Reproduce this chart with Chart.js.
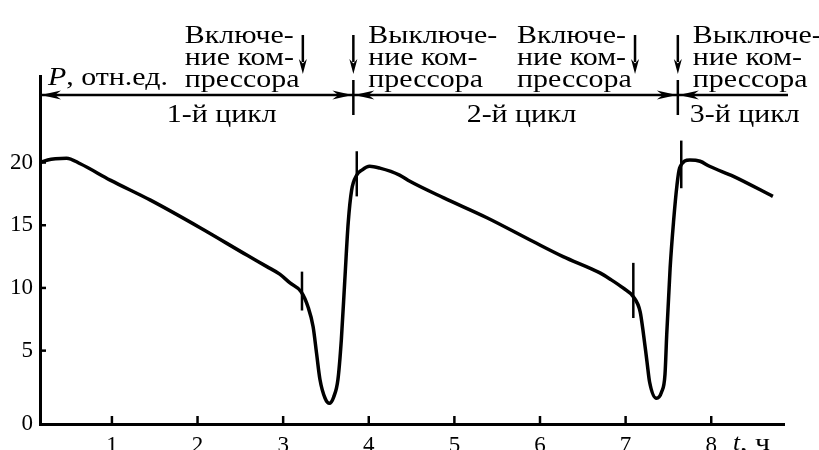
<!DOCTYPE html>
<html><head><meta charset="utf-8">
<script src="https://cdn.jsdelivr.net/npm/chart.js@4/dist/chart.umd.min.js"></script>
<style>html,body{margin:0;padding:0;background:#fff}</style>
</head><body>
<canvas id="c" width="819" height="450"></canvas>
<script>
// ---- data ----
const timeH = [0.16,0.25,0.34,0.47,0.63,0.98,1.45,2.03,2.58,2.81,2.96,3.08,3.21,3.29,3.35,3.39,3.43,3.49,3.54,3.59,3.64,3.68,3.72,3.76,3.80,3.86,3.92,4.01,4.13,4.36,4.48,4.87,5.38,5.92,6.27,6.70,6.82,6.97,7.09,7.17,7.21,7.25,7.28,7.36,7.42,7.46,7.48,7.52,7.56,7.60,7.63,7.75,7.87,7.98,8.26,8.72];
const powerRel = [20.0,20.2,20.3,20.35,19.9,18.6,17.0,14.8,12.6,11.7,11.1,10.4,9.7,8.5,6.9,4.8,2.7,1.2,0.8,1.3,2.7,5.9,10.6,15.2,17.8,19.0,19.4,19.7,19.55,19.0,18.5,17.2,15.6,13.7,12.5,11.2,10.7,10.0,9.3,8.1,6.25,4.1,2.5,1.2,1.7,3.1,6.25,11.6,15.3,18.2,19.55,20.2,20.1,19.7,18.9,17.3];
const xTickValues = [1,2,3,4,5,6,7,8];
const yTickValues = [5,10,15,20];
const yZeroLabel = '0';
const markerTimes = [3.22,3.86,7.09,7.65];
const markerLow = [8.2,17.3,7.6,17.95];
const markerHigh = [11.3,20.9,12.0,21.75];
const eventTimes = [3.23,3.82,7.11,7.61];
const eventKinds = ['on','off','on','off'];
const eventTextOn = ['Включе-','ние ком-','прессора'];
const eventTextOff = ['Выключе-','ние ком-','прессора'];
const cycleBounds = [3.82,7.61];
const cycleLabels = ['1-й цикл','2-й цикл','3-й цикл'];
const yAxisTitleItalic = 'P';
const yAxisTitleRest = ', отн.ед.';
const xAxisTitleItalic = 't';
const xAxisTitleRest = ', ч';

const SERIF = '"Liberation Serif","Times New Roman",serif';
const SX = 1.15; // horizontal stretch of annotation lettering

const datasets = [{
  data: timeH.map((t,i)=>({x:t,y:powerRel[i]})),
  borderColor:'#000', borderWidth:3.5, pointRadius:0, cubicInterpolationMode:'monotone', fill:false
}];
markerTimes.forEach((t,i)=>{
  datasets.push({data:[{x:t,y:markerLow[i]},{x:t,y:markerHigh[i]}], borderColor:'#000', borderWidth:2.5, pointRadius:0, fill:false});
});

function arrowHead(ctx, tipX, tipY, dir, len, half){
  ctx.beginPath();
  if(dir==='right'){ctx.moveTo(tipX,tipY);ctx.lineTo(tipX-len,tipY-half);ctx.lineTo(tipX-len*0.7,tipY);ctx.lineTo(tipX-len,tipY+half);}
  else if(dir==='left'){ctx.moveTo(tipX,tipY);ctx.lineTo(tipX+len,tipY-half);ctx.lineTo(tipX+len*0.7,tipY);ctx.lineTo(tipX+len,tipY+half);}
  else {ctx.moveTo(tipX,tipY);ctx.lineTo(tipX-half,tipY-len);ctx.lineTo(tipX,tipY-len*0.7);ctx.lineTo(tipX+half,tipY-len);}
  ctx.closePath(); ctx.fill();
}
function txt(ctx, s, x, y, font, align, sx){
  ctx.save();
  ctx.font = font; ctx.textAlign = align||'left'; ctx.textBaseline='alphabetic';
  ctx.translate(x,y); ctx.scale(sx||1,1);
  ctx.fillText(s,0,0);
  const w = ctx.measureText(s).width*(sx||1);
  ctx.restore();
  return w;
}

const decor = {
  id:'decor',
  afterDraw(chart){
    const {ctx, chartArea:a, scales:{x,y}} = chart;
    ctx.save();
    ctx.strokeStyle='#000'; ctx.fillStyle='#000';
    ctx.lineWidth=2.5;
    yTickValues.forEach(v=>{const py=y.getPixelForValue(v);ctx.beginPath();ctx.moveTo(a.left,py);ctx.lineTo(a.left+6,py);ctx.stroke();});
    xTickValues.forEach(v=>{const px=x.getPixelForValue(v);ctx.beginPath();ctx.moveTo(px,a.bottom);ctx.lineTo(px,a.bottom-8);ctx.stroke();});
    const ly = 95;
    const rightEnd = a.right+4;
    ctx.beginPath();ctx.moveTo(a.left,ly);ctx.lineTo(rightEnd,ly);ctx.stroke();
    arrowHead(ctx,a.left+1,ly,'left',20,4.5);
    cycleBounds.forEach(b=>{
      const px=x.getPixelForValue(b);
      arrowHead(ctx,px-1,ly,'right',20,4.5);
      arrowHead(ctx,px+1,ly,'left',20,4.5);
      ctx.beginPath();ctx.moveTo(px,80);ctx.lineTo(px,115);ctx.stroke();
    });
    const F = '26px '+SERIF, FI = 'italic 26px '+SERIF;
    eventTimes.forEach((t,i)=>{
      const px=x.getPixelForValue(t);
      ctx.lineWidth=2.5;
      ctx.beginPath();ctx.moveTo(px,35);ctx.lineTo(px,62);ctx.stroke();
      arrowHead(ctx,px,74,'down',15,4);
      const lines = eventKinds[i]==='on'?eventTextOn:eventTextOff;
      const left = eventKinds[i]==='on'? px-118 : px+15;
      lines.forEach((s,k)=>txt(ctx,s,left,43+k*22,F,'left',SX));
    });
    const c1=x.getPixelForValue(cycleBounds[0]), c2=x.getPixelForValue(cycleBounds[1]);
    txt(ctx,cycleLabels[0], a.left+(c1-a.left)*0.58, 122, F,'center',SX);
    txt(ctx,cycleLabels[1], (c1+c2)/2+6, 122, F,'center',SX);
    txt(ctx,cycleLabels[2], c2+12, 122, F,'left',SX);
    let w = txt(ctx,yAxisTitleItalic, a.left+8, 85, FI,'left',SX);
    txt(ctx,yAxisTitleRest, a.left+8+w, 85, F,'left',SX);
    w = txt(ctx,xAxisTitleItalic, 733, 450, 'italic 23px '+SERIF,'left',1.1);
    txt(ctx,xAxisTitleRest, 733+w, 450, '23px '+SERIF,'left',1.3);
    ctx.restore();
  }
};

new Chart(document.getElementById('c'),{
  type:'line',
  data:{datasets},
  options:{
    responsive:false, animation:false, devicePixelRatio:1,
    layout:{padding:{top:76,right:35,left:0,bottom:0}},
    plugins:{legend:{display:false},tooltip:{enabled:false}},
    scales:{
      x:{type:'linear',min:0.16,max:8.85,
        grid:{display:false,drawTicks:false},
        border:{display:true,color:'#000',width:3},
        afterBuildTicks:s=>{s.ticks=xTickValues.map(v=>({value:v}));},
        afterFit:s=>{s.height=26;},
        ticks:{color:'#000',font:{family:SERIF,size:23},padding:8,maxRotation:0,autoSkip:false}
      },
      y:{type:'linear',min:-0.85,max:26.9,
        grid:{display:false,drawTicks:false},
        border:{display:true,color:'#000',width:3},
        afterBuildTicks:s=>{s.ticks=[{value:s.min}].concat(yTickValues.map(v=>({value:v})));},
        afterFit:s=>{s.width=40;},
        ticks:{color:'#000',font:{family:SERIF,size:23},padding:7,
          callback:(v,i)=> i===0?yZeroLabel:String(v)}
      }
    }
  },
  plugins:[decor]
});
</script>
</body></html>
